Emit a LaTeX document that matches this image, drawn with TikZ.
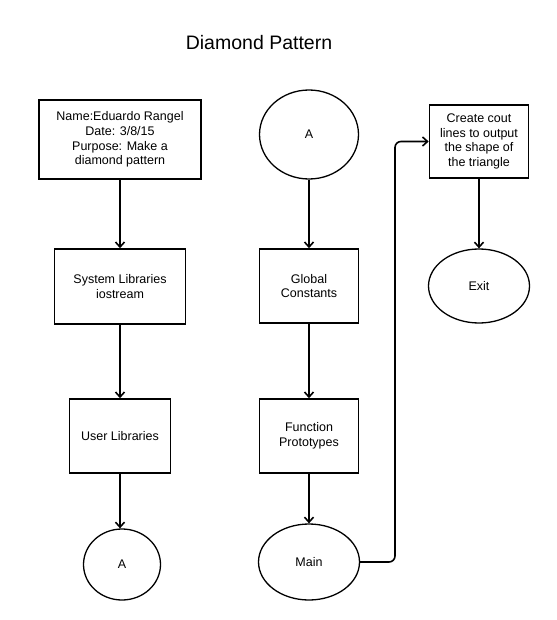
\documentclass[tikz,border=0pt]{standalone}
\usepackage{fontspec}
\setmainfont{Liberation Sans}
\usetikzlibrary{shapes.geometric,arrows.meta}
\begin{document}
\begin{tikzpicture}[x=1pt,y=-1pt,
  every node/.style={font=\fontsize{12.5}{14.8}\selectfont, align=center, inner sep=0pt},
  procbox/.style={draw, rectangle, line width=1.6pt},
  terminal/.style={draw, ellipse, line width=1.3pt},
  flow/.style={line width=1.8pt, -{Straight Barb[length=5pt,width=9pt,line width=1.6pt]}},
  link/.style={line width=1.6pt, rounded corners=6pt, -{Straight Barb[length=5pt,width=9pt,line width=1.6pt]}}]
\useasboundingbox (0,0) rectangle (556,620);
\fill[white] (0,0) rectangle (556,620);

\node[font=\fontsize{19.5}{23}\selectfont] (title) at (259,43) {Diamond Pattern};

% left column
\node[procbox, minimum width=162pt, minimum height=79pt] (info) at (120,139.5)
  {Name:Eduardo Rangel\\Date: 3/8/15\\Purpose: Make a\\diamond pattern};
\node[procbox, minimum width=131pt, minimum height=75pt] (syslib) at (120,286.5)
  {System Libraries\\iostream};
\node[procbox, minimum width=101pt, minimum height=74pt] (userlib) at (120,436)
  {User Libraries};
\node[terminal, minimum width=77pt, minimum height=71pt] (aout) at (122,564.5) {A};

% middle column
\node[terminal, minimum width=99pt, minimum height=89pt] (ain) at (309,134.5) {A};
\node[procbox, minimum width=99pt, minimum height=74pt] (global) at (309,286)
  {Global\\Constants};
\node[procbox, minimum width=99pt, minimum height=74pt] (proto) at (309,436)
  {Function\\Prototypes};
\node[terminal, minimum width=101pt, minimum height=76pt] (main) at (309,562) {Main};

% right column
\node[procbox, minimum width=99pt, minimum height=73pt] (cout) at (479,141.5)
  {Create cout\\lines to output\\the shape of\\the triangle};
\node[terminal, minimum width=101pt, minimum height=74pt] (exit) at (479,286) {Exit};

% connectors
\draw[flow] (info) -- (syslib);
\draw[flow] (syslib) -- (userlib);
\draw[flow] (userlib.south) -- (userlib.south |- aout.north);
\draw[flow] (ain) -- (global);
\draw[flow] (global) -- (proto);
\draw[flow] (proto.south) -- (proto.south |- main.north);
\draw[link] (main.east) -- (395,562) -- (395,141.5) -- (cout.west);
\draw[flow] (cout.south) -- (cout.south |- exit.north);
\end{tikzpicture}
\end{document}
